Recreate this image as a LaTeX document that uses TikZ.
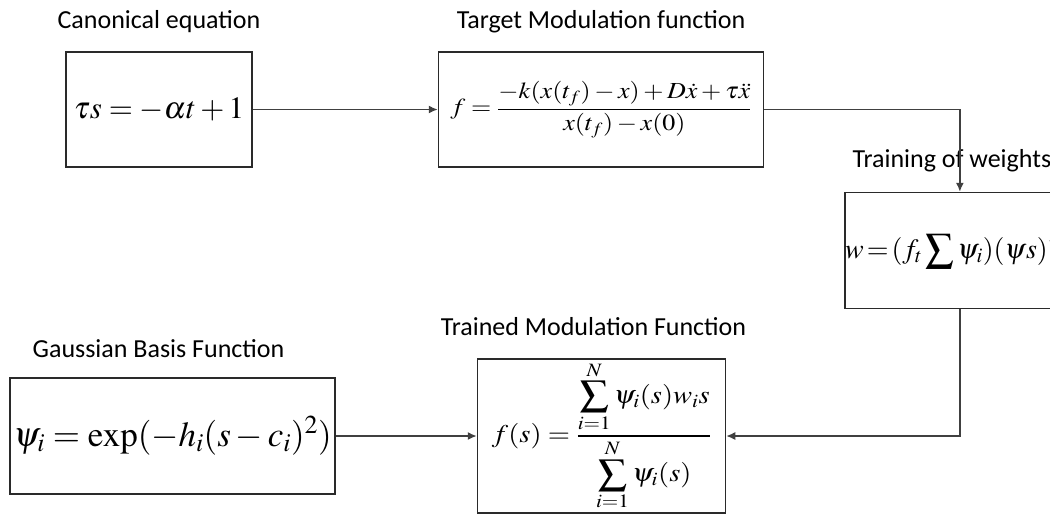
\documentclass[tikz,border=0pt]{standalone}
\usepackage{mathptmx}
\usepackage{graphicx}
\usepackage[no-math]{fontspec}
\newfontfamily\labelfont{Carlito}
\usetikzlibrary{arrows.meta,positioning}
\definecolor{boxline}{HTML}{2A2A2A}
\definecolor{wireline}{HTML}{404040}
\newcommand{\eqsize}[1]{\fontsize{#1}{#1}\selectfont}

\begin{document}
\begin{tikzpicture}[x=1pt,y=-1pt,>={Latex[length=9pt,width=8pt]},
 eqbox/.style={draw=boxline,line width=1.5pt,inner sep=0pt,minimum height=115pt},
 boxlabel/.style={font=\labelfont\fontsize{26}{30}\selectfont,inner sep=0pt,text depth=6pt},
 wire/.style={->,draw=wireline,line width=1.5pt}]
\useasboundingbox (0,0) rectangle (1050,517);
\clip (0,0) rectangle (1050,517);
% boxes
\node[eqbox,minimum width=186pt] (canon) at (159,109.5) {\eqsize{31}$\tau s=-\alpha t+1$};
\node[eqbox,minimum width=325pt,right=185pt of canon] (target)
 {\scalebox{1.13}[1]{\eqsize{23}$\displaystyle f=\frac{-k(x(t_f)-x)+D\dot{x}+\tau\ddot{x}}{x(t_f)-x(0)}$}};
\node[eqbox,minimum width=218pt,minimum height=116pt,below right=24pt and 80pt of target] (train)
 {\eqsize{28}$\displaystyle w\!=\!(f_t\sum\psi_i)(\psi s)^{-1}$};
\node[eqbox,minimum width=248pt,minimum height=154pt,below left=49pt and 118pt of train] (trained)
 {\scalebox{1.12}[1]{\eqsize{25.5}$\displaystyle f(s)=\frac{\displaystyle\sum_{i=1}^{N}\psi_i(s)w_i s}{\displaystyle\sum_{i=1}^{N}\psi_i(s)}$}};
\node[eqbox,minimum width=325pt,minimum height=116pt,left=141pt of trained] (gauss)
 {\eqsize{35}$\psi_i=\exp(-h_i(s-c_i)^2)$};
% labels
\node[boxlabel,above=16.5pt of canon] (canonlbl) {Canonical equation};
\node[boxlabel,above=16.5pt of target] (targetlbl) {Target Modulation function};
\node[boxlabel,above=18pt of train,xshift=-8pt] (trainlbl) {Training of weights};
\node[boxlabel,above=17pt of trained,xshift=-8pt] (trainedlbl) {Trained Modulation Function};
\node[boxlabel,above=14pt of gauss,xshift=-14pt] (gausslbl) {Gaussian Basis Function};
% connectors
\draw[wire] (canon) -- (target);
\draw[wire] (target) -| (train);
\draw[wire] (train) |- (trained);
\draw[wire] (gauss) -- (trained);
\end{tikzpicture}
\end{document}
